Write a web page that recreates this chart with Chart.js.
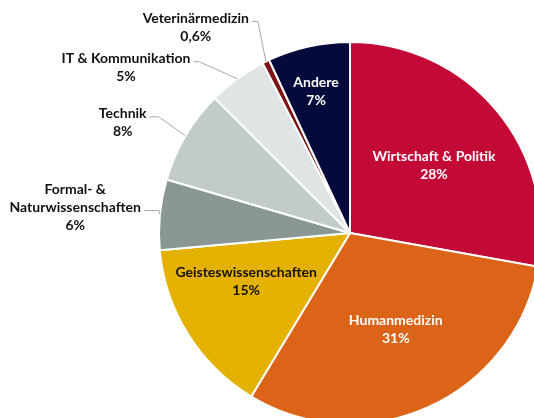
<!DOCTYPE html>
<html lang="de">
<head>
<meta charset="utf-8">
<title>Studienrichtungen</title>
<script src="https://cdn.jsdelivr.net/npm/chart.js@4.4.1/dist/chart.umd.min.js"></script>
<style>
  html, body { margin: 0; padding: 0; background: #fff; overflow: hidden; }
  #wrap { position: relative; width: 534px; height: 418px; }
</style>
</head>
<body>
<div id="wrap"><canvas id="pie" width="534" height="418"></canvas></div>
<script>
// Daten (Anteile in %), im Uhrzeigersinn ab 12 Uhr
const CATEGORIES = ['Wirtschaft & Politik', 'Humanmedizin', 'Geisteswissenschaften', 'Formal- &\nNaturwissenschaften', 'Technik', 'IT & Kommunikation', 'Veterinärmedizin', 'Andere'];
const SHARES = [28, 31, 15, 6, 8, 5, 0.6, 7];
const COLORS = ['#c30a37', '#dc6418', '#e5b100', '#8a9895', '#c0cbca', '#dfe5e4', '#7d1517', '#050a3c'];

// Beschriftung: innen (r = Anteil vom Radius) oder aussen mit Fuehrungslinie
const LABEL_POS = [
  { inside: true, r: 0.565, dAngle: 1, color: '#ffffff' },
  { inside: true, r: 0.56, dAngle: -1, color: '#ffffff' },
  { inside: true, r: 0.60, dAngle: 7, color: '#111111' },
  { inside: false, elbow: [-1, -4], tail: 15, anchorLine: 1 },
  { inside: false, elbow: [-27, -19], tail: 9, anchorLine: 0 },
  { inside: false, elbow: [-38, -17], tail: 6, anchorLine: 0 },
  { inside: false, elbow: [-8, -40], tail: 6, anchorLine: 0 },
  { inside: true, r: 0.76, dAngle: -1, color: '#ffffff' }
];

const FONT = 'bold 14px Lato, "Open Sans", sans-serif';
const LINE_H = 18;

function pctText(v) {
  return v.toString().replace('.', ',') + '%';
}

const sliceLabels = {
  id: 'sliceLabels',
  afterDatasetsDraw(chart) {
    const ctx = chart.ctx;
    const arcs = chart.getDatasetMeta(0).data;
    ctx.save();
    ctx.font = FONT;
    ctx.textBaseline = 'middle';
    ctx.textAlign = 'center';
    arcs.forEach((arc, i) => {
      const p = LABEL_POS[i];
      const lines = CATEGORIES[i].split('\n').concat(pctText(SHARES[i]));
      const mid = (arc.startAngle + arc.endAngle) / 2;
      if (p.inside) {
        const a = mid + p.dAngle * Math.PI / 180;
        const cx = arc.x + Math.cos(a) * arc.outerRadius * p.r;
        const cy = arc.y + Math.sin(a) * arc.outerRadius * p.r;
        ctx.fillStyle = p.color;
        const top = cy - (lines.length - 1) * LINE_H / 2;
        lines.forEach((t, k) => ctx.fillText(t, cx, top + k * LINE_H));
      } else {
        const sx = arc.x + Math.cos(mid) * arc.outerRadius;
        const sy = arc.y + Math.sin(mid) * arc.outerRadius;
        const ex = sx + p.elbow[0];
        const ey = sy + p.elbow[1];
        const tx = ex - p.tail;
        ctx.strokeStyle = '#a9a9a9';
        ctx.lineWidth = 1;
        ctx.beginPath();
        ctx.moveTo(sx, sy);
        ctx.lineTo(ex, ey);
        ctx.lineTo(tx, ey);
        ctx.stroke();
        const w = Math.max(...lines.map(t => ctx.measureText(t).width));
        const cx = tx - 3 - w / 2;
        const top = ey - 3 - p.anchorLine * LINE_H;
        ctx.fillStyle = '#111111';
        lines.forEach((t, k) => ctx.fillText(t, cx, top + k * LINE_H));
      }
    });
    ctx.restore();
  }
};

new Chart(document.getElementById('pie'), {
  type: 'pie',
  data: {
    labels: CATEGORIES,
    datasets: [{
      data: SHARES,
      backgroundColor: COLORS,
      borderColor: '#ffffff',
      borderWidth: 2,
      clip: false
    }]
  },
  options: {
    responsive: false,
    animation: false,
    radius: 191,
    layout: { padding: { left: 166, top: 48, right: 0, bottom: 0 } },
    plugins: {
      legend: { display: false },
      tooltip: { enabled: false }
    }
  },
  plugins: [sliceLabels]
});
</script>
</body>
</html>
